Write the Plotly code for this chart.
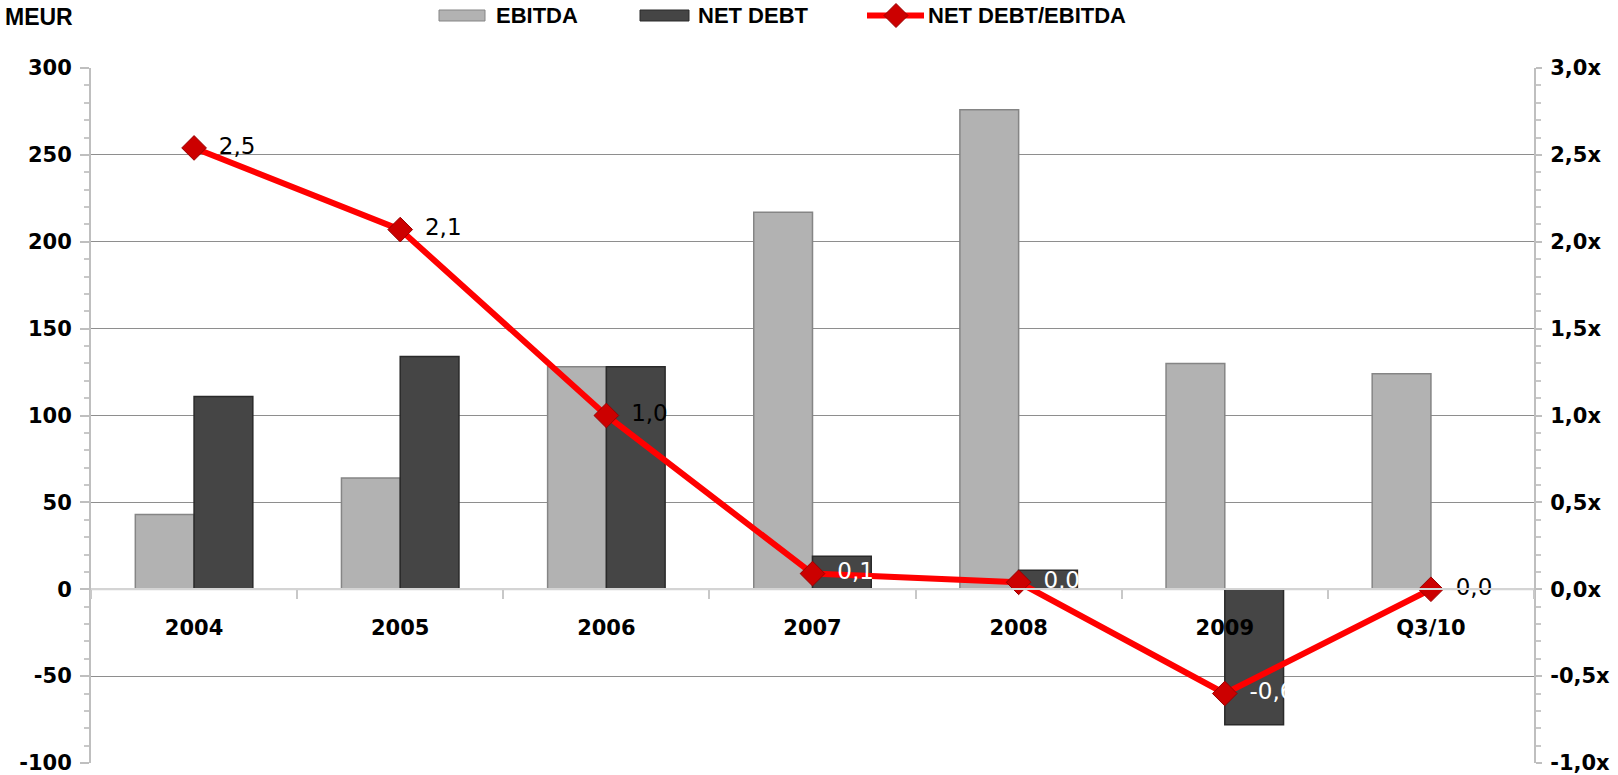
import plotly.graph_objects as go

categories = ["2004", "2005", "2006", "2007", "2008", "2009", "Q3/10"]
ebitda = [43, 64, 128, 217, 276, 130, 124]
net_debt = [111, 134, 128, 19, 11, -78, 0]
ratio = [2.54, 2.07, 1.0, 0.09, 0.04, -0.6, 0.0]
ratio_labels = ["2,5", "2,1", "1,0", "0,1", "0,0", "-0,6", "0,0"]
label_colors = ["black", "black", "black", "white", "white", "white", "black"]

left_ticks = [-100, -50, 0, 50, 100, 150, 200, 250, 300]
left_ticktext = ["-100", "-50", "0", "50", "100", "150", "200", "250", "300"]
right_ticks = [-1.0, -0.5, 0.0, 0.5, 1.0, 1.5, 2.0, 2.5, 3.0]
right_ticktext = ["-1,0x", "-0,5x", "0,0x", "0,5x", "1,0x", "1,5x", "2,0x", "2,5x", "3,0x"]

W, H = 1618, 775
L, R, T, B = 91, 84, 68, 12
PW, PH = W - L - R, H - T - B

def px(x):
    return (x - L) / PW

def py(y):
    return (H - B - y) / PH

TICKFONT = dict(family="DejaVu Sans", size=21, color="black", weight="bold")
BOLDFONT = dict(family="Liberation Sans", size=22, color="black", weight="bold")

fig = go.Figure()
fig.add_trace(go.Bar(
    x=categories, y=ebitda, name="EBITDA",
    marker=dict(color="#B2B2B2", line=dict(color="#858585", width=1.5)),
    showlegend=False,
))
fig.add_trace(go.Bar(
    x=categories, y=net_debt, name="NET DEBT",
    marker=dict(color="#454545", line=dict(color="#2A2A2A", width=1.5)),
    showlegend=False,
))
fig.add_trace(go.Scatter(
    x=categories, y=ratio, name="NET DEBT/EBITDA", yaxis="y2",
    mode="lines+markers+text",
    line=dict(color="#FF0000", width=6),
    marker=dict(symbol="diamond", size=19, color="#CC0000", line=dict(color="#990000", width=1)),
    text=ratio_labels, texttemplate="\u2009 %{text}", textposition="middle right",
    textfont=dict(family="DejaVu Sans", size=23, color=label_colors),
    cliponaxis=False, showlegend=False,
))

fig.update_layout(
    width=W, height=H,
    margin=dict(l=L, r=R, t=T, b=B, autoexpand=False),
    paper_bgcolor="white", plot_bgcolor="white",
    barmode="group", bargap=0.43, bargroupgap=0.0,
    xaxis=dict(
        type="category", anchor="free", position=0.25,
        showline=True, linecolor="#D4D4D4", linewidth=2,
        ticks="outside", tickson="boundaries", ticklen=9, tickcolor="#C8C8C8", tickwidth=1.5,
        tickfont=TICKFONT, ticklabelstandoff=20,
        showgrid=False, zeroline=False,
    ),
    yaxis=dict(
        range=[-100, 300], tickvals=left_ticks, ticktext=left_ticktext,
        showline=True, linecolor="#BFBFBF", linewidth=2,
        ticks="outside", ticklen=9, tickcolor="#BFBFBF", tickwidth=1.5,
        minor=dict(dtick=10, ticks="outside", ticklen=5, tickcolor="#C8C8C8", showgrid=False),
        showgrid=True, gridcolor="#8E8E8E", gridwidth=1.3,
        zeroline=False, tickfont=TICKFONT, ticklabelstandoff=4,
        ticklabeloverflow="allow",
    ),
    yaxis2=dict(
        range=[-1, 3], overlaying="y", side="right",
        tickvals=right_ticks, ticktext=right_ticktext,
        showline=True, linecolor="#BFBFBF", linewidth=2,
        ticks="outside", ticklen=6, tickcolor="#BFBFBF", tickwidth=1.5,
        minor=dict(dtick=0.1, ticks="outside", ticklen=5, tickcolor="#C8C8C8", showgrid=False),
        showgrid=False, zeroline=False, tickfont=TICKFONT, ticklabelstandoff=4,
        ticklabeloverflow="allow",
    ),
)

# zero line drawn lighter across the plot
fig.add_shape(type="line", xref="paper", yref="y", x0=0, x1=1, y0=0, y1=0,
              line=dict(color="#D4D4D4", width=2), layer="below")

# custom legend
ly = 15.5
fig.add_shape(type="rect", xref="paper", yref="paper",
              x0=px(439), x1=px(485), y0=py(ly + 5.5), y1=py(ly - 5.5),
              fillcolor="#B2B2B2", line=dict(color="#858585", width=1))
fig.add_shape(type="rect", xref="paper", yref="paper",
              x0=px(640), x1=px(689), y0=py(ly + 5.5), y1=py(ly - 5.5),
              fillcolor="#454545", line=dict(color="#2A2A2A", width=1))
fig.add_shape(type="line", xref="paper", yref="paper",
              x0=px(867), x1=px(924), y0=py(ly), y1=py(ly),
              line=dict(color="#FF0000", width=6))
d = 12
fig.add_shape(type="path", xref="paper", yref="paper",
              path=f"M {px(896-d)},{py(ly)} L {px(896)},{py(ly-d)} L {px(896+d)},{py(ly)} L {px(896)},{py(ly+d)} Z",
              fillcolor="#CC0000", line=dict(color="#990000", width=1))
for txt, x in [("EBITDA", 494), ("NET DEBT", 696), ("NET DEBT/EBITDA", 926)]:
    fig.add_annotation(text=txt, xref="paper", yref="paper", x=px(x), y=py(ly),
                       xanchor="left", yanchor="middle", showarrow=False, font=BOLDFONT)

fig.add_annotation(text="MEUR", xref="paper", yref="paper", x=px(3), y=py(17),
                   xanchor="left", yanchor="middle", showarrow=False,
                   font=dict(family="Liberation Sans", size=23, color="black", weight="bold"))

fig.write_html("out.html")
